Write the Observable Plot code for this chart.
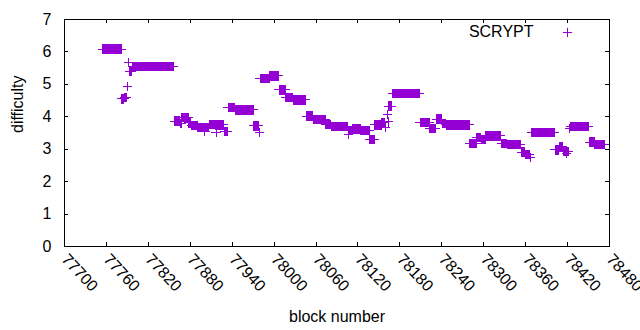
<!DOCTYPE html>
<html>
<head>
<meta charset="utf-8">
<script src="https://cdn.jsdelivr.net/npm/d3@7"></script>
<script src="https://cdn.jsdelivr.net/npm/@observablehq/plot@0.6"></script>
<style>
  html, body { margin: 0; padding: 0; background: #fff; }
  svg { font-family: "Liberation Sans", Arial, sans-serif; }
</style>
</head>
<body>
<div id="chart"></div>
<script>
// Tick values
const xTicks = [77700, 77760, 77820, 77880, 77940, 78000, 78060, 78120, 78180, 78240, 78300, 78360, 78420, 78480];
const yTicks = [0, 1, 2, 3, 4, 5, 6, 7];

// Difficulty held constant over runs of blocks
const runStart = [77755, 77782, 77786, 77793, 77797, 77857, 77866, 77868, 77878, 77882, 77891, 77907, 77916, 77929, 77934, 77945, 77971, 77980, 77994, 78007, 78017, 78028, 78046, 78056, 78074, 78082, 78090, 78106, 78112, 78124, 78137, 78144, 78154, 78164, 78169, 78209, 78223, 78232, 78241, 78246, 78280, 78290, 78297, 78303, 78325, 78334, 78354, 78360, 78369, 78402, 78408, 78414, 78424, 78451, 78459];
const runEnd   = [77781, 77785, 77789, 77796, 77856, 77865, 77867, 77877, 77881, 77890, 77906, 77915, 77928, 77933, 77944, 77970, 77977, 77993, 78006, 78016, 78027, 78045, 78055, 78073, 78081, 78089, 78105, 78111, 78123, 78136, 78143, 78153, 78158, 78168, 78208, 78222, 78231, 78240, 78245, 78279, 78289, 78296, 78302, 78324, 78333, 78353, 78359, 78366, 78401, 78407, 78413, 78421, 78450, 78458, 78473];
const runValue = [6.09, 4.55, 4.60, 5.40, 5.54, 3.87, 3.80, 3.97, 3.81, 3.74, 3.68, 3.77, 3.75, 3.54, 4.29, 4.21, 3.72, 5.17, 5.26, 4.83, 4.60, 4.52, 4.02, 3.92, 3.76, 3.71, 3.69, 3.57, 3.62, 3.58, 3.29, 3.75, 3.82, 4.33, 4.71, 3.83, 3.64, 3.93, 3.79, 3.75, 3.17, 3.36, 3.31, 3.41, 3.17, 3.14, 2.91, 2.83, 3.51, 2.98, 3.08, 2.94, 3.71, 3.22, 3.14];

// Single blocks off the runs
const oddBlock = [77790, 77792, 77901, 77917, 77979, 78106, 78159, 78162, 78163, 78367, 78418, 78423];
const oddValue = [4.93, 5.68, 3.56, 3.53, 3.51, 3.45, 3.66, 4.06, 3.84, 2.74, 2.86, 3.63];

const seriesName = "SCRYPT";
const xLabel = "block number";
const yLabel = "difficulty";

// Build table: one point per block
const points = [];
runStart.forEach((s, i) => {
  for (let b = s; b <= runEnd[i]; b++) points.push({block: b, value: runValue[i]});
});
oddBlock.forEach((b, i) => points.push({block: b, value: oddValue[i]}));

const W = 640, H = 330;
const mL = 64, mR = 31, mT = 19, mB = 84;
const fw = W - mL - mR, fh = H - mT - mB;
const tick = 4;
const purple = "#9400d3";

const chart = Plot.plot({
  width: W, height: H,
  marginLeft: mL, marginRight: mR, marginTop: mT, marginBottom: mB,
  style: {fontFamily: "Liberation Sans, Arial, sans-serif", fontSize: "16px", color: "black", background: "white", overflow: "hidden"},
  x: {domain: [77700, 78480]},
  y: {domain: [0, 7]},
  marks: [
    Plot.dot(points, {x: "block", y: "value", symbol: "plus", r: 3.1, stroke: purple, strokeWidth: 1, shapeRendering: "crispEdges"}),
    // inward ticks on all four sides
    Plot.tickX(xTicks, {x: d => d, insetTop: fh - tick, stroke: "black", shapeRendering: "crispEdges"}),
    Plot.tickX(xTicks, {x: d => d, insetBottom: fh - tick, stroke: "black", shapeRendering: "crispEdges"}),
    Plot.tickY(yTicks, {y: d => d, insetRight: fw - tick, stroke: "black", shapeRendering: "crispEdges"}),
    Plot.tickY(yTicks, {y: d => d, insetLeft: fw - tick, stroke: "black", shapeRendering: "crispEdges"}),
    Plot.frame({stroke: "black", shapeRendering: "crispEdges"}),
    Plot.axisX({ticks: xTicks, tickSize: 0, tickPadding: 10, tickRotate: 47, tickFormat: d => String(d), label: null, fontSize: 16}),
    Plot.axisY({ticks: yTicks, tickSize: 0, tickPadding: 13, tickFormat: d => String(d), label: null, fontSize: 16}),
    Plot.text([xLabel], {frameAnchor: "bottom", dy: 75, fontSize: 16, fill: "black"}),
    Plot.text([yLabel], {frameAnchor: "left", dx: -47, rotate: -90, fontSize: 16, fill: "black"}),
    Plot.text([seriesName], {frameAnchor: "top-right", dx: -76, dy: 6, textAnchor: "end", fontSize: 16, fill: "black"}),
    Plot.dot([seriesName], {frameAnchor: "top-right", dx: -42, dy: 13, symbol: "plus", r: 3.1, stroke: purple, strokeWidth: 1})
  ]
});
document.getElementById("chart").appendChild(chart);
</script>
</body>
</html>
